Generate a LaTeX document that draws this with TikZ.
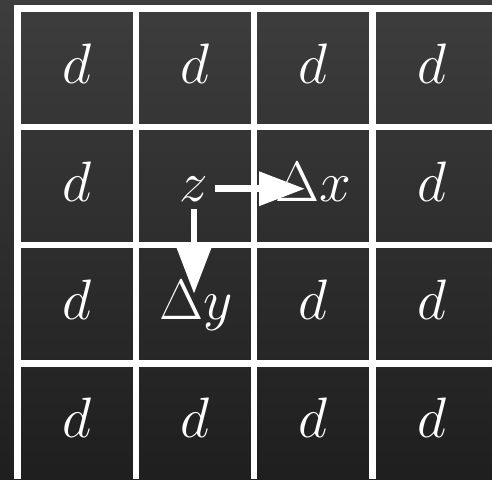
\RequirePackage{fix-cm}
\documentclass[tikz,border=0pt]{standalone}
\usetikzlibrary{arrows.meta}

\begin{document}
\begin{tikzpicture}[x=1pt,y=-1pt,line width=6.5pt,>={Triangle[length=46pt,width=33pt]},
  lbl/.style={text=white,font=\fontsize{57}{57}\selectfont,inner sep=0pt,anchor=base}]
  \useasboundingbox (0,0) rectangle (492,479);
  \shade[top color=black!76,bottom color=black!88] (0,0) rectangle (492,479);
  % grid
  \foreach \i in {0,1,2,3}{
    \draw[white] (17.5+118.3*\i,5) -- (17.5+118.3*\i,479);
    \draw[white] (14,8.5+118.3*\i) -- (492,8.5+118.3*\i);
  }
  % cells
  \foreach \c/\r in {0/0,1/0,2/0,3/0,0/1,3/1,0/2,2/2,3/2,0/3,1/3,2/3,3/3}
    \node[lbl] (d-\c-\r) at (76.6+118.3*\c,83+118.3*\r) {$d$};
  \node[lbl] (z) at (194,201) {$z$};
  \node[lbl] (dx) at (313,201) {$\Delta x$};
  \node[lbl] (dy) at (196,319) {$\Delta y$};
  % steps
  \draw[->,white,shorten <=4pt,shorten >=8pt] (z.east) -- (z.east -| dx.center);
  \draw[->,white,shorten <=5pt,shorten >=-17pt] (z.south) -- (z.south |- dy.north);
\end{tikzpicture}
\end{document}
